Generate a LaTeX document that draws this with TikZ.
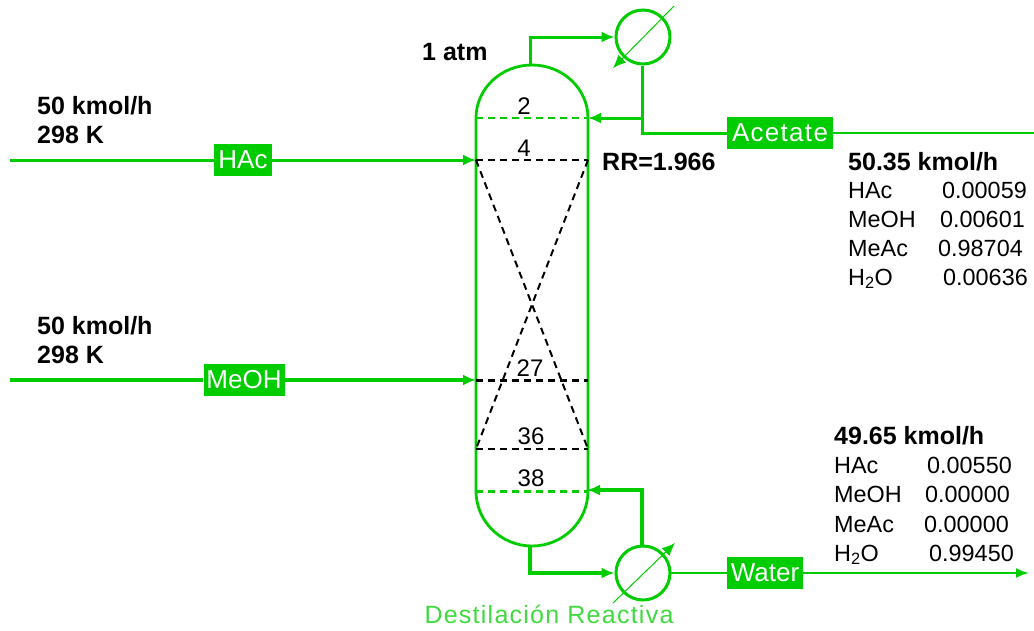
\documentclass[tikz,border=0pt]{standalone}
\usepackage{fontspec}
\setmainfont{Liberation Sans}
\usetikzlibrary{arrows.meta}
\definecolor{pfd}{RGB}{0,204,0}
\tikzset{
    stream/.style={draw=pfd, line width=3pt},
    feed/.style={stream, -{Latex[length=13pt,width=11pt]}},
    tag/.style={fill=pfd, text=white, inner sep=0pt, minimum height=32pt, font=\fontsize{26}{26}\selectfont},
    hx/.style={circle, draw=pfd, line width=3pt, minimum size=54pt, inner sep=0pt},
    tray/.style={dashed, dash pattern=on 7pt off 5pt},
    note/.style={anchor=west, inner sep=0pt, yshift=-2pt, text height=16pt, text depth=4pt, font=\fontsize{23.4}{24}\selectfont},
    bnote/.style={note, font=\fontsize{25}{25}\selectfont\bfseries},
    stage/.style={inner sep=0pt, font=\fontsize{24}{24}\selectfont}
}
\begin{document}
\begin{tikzpicture}[x=1pt,y=-1pt]
        \useasboundingbox (0,0) rectangle (1034,630);

        \coordinate (lt) at (476,118);
        \coordinate (rt) at (588,118);
        \coordinate (lb) at (476,491);
        \coordinate (rb) at (588,491);
        \coordinate (l4) at (476,160);
        \coordinate (r4) at (588,160);
        \coordinate (l27) at (476,380);
        \coordinate (r27) at (588,380);
        \coordinate (l36) at (476,449);
        \coordinate (r36) at (588,449);

        % column
        \draw[pfd, line width=2.8pt] (lt) arc[start angle=180, end angle=0, x radius=56, y radius=-53]
            -- (rb) arc[start angle=0, end angle=-180, x radius=56, y radius=-55] -- cycle;

        % trays
        \draw[tray, pfd, line width=1.5pt] (lt) -- (rt);
        \draw[tray, pfd, line width=3pt] (lb) -- (rb);
        \draw[tray, line width=2.6pt] (l4) -- (r4);
        \draw[tray, line width=3pt] (l27) -- (r27);
        \draw[tray, line width=1.6pt] (l36) -- (r36);
        \draw[tray, line width=2pt] (l4) -- (r36);
        \draw[tray, line width=2pt] (r4) -- (l36);

        \node[stage] (n2) at (524,106) {2};
        \node[stage] (n4) at (524,148) {4};
        \node[stage] (n27) at (530,368) {27};
        \node[stage] (n36) at (531,436) {36};
        \node[stage] (n38) at (531,478) {38};

        % exchangers
        \node[hx] (cond) at (643,37) {};
        \node[hx] (reb) at (643,573) {};
        \coordinate (cda) at (613,68);
        \coordinate (cdb) at (674,6);
        \coordinate (rba) at (613,603);
        \coordinate (rbb) at (675,543);
        \draw[pfd, line width=1pt, -{Latex[length=13pt,width=11pt]}] (rba) -- (rbb);
        \draw[pfd, line width=1pt, -{Latex[length=13pt,width=11pt]}] (cdb) -- (cda);

        % streams
        \coordinate (hin) at (10,160);
        \coordinate (min) at (10,380);
        \node[tag, minimum width=58pt] (hac) at (243,160) {HAc};
        \node[tag, minimum width=81pt] (meoh) at (244,380) {MeOH};
        \node[tag, minimum width=106pt, font=\fontsize{26}{26}\selectfont\addfontfeature{LetterSpace=5}] (acetate) at (780,133) {Acetate};
        \node[tag, minimum width=76pt] (water) at (765,573) {Water};

        \draw[stream] (hin) -- (hac);
        \draw[feed] (hac) -- (l4);
        \draw[stream, line width=3.4pt] (min) -- (meoh);
        \draw[feed, line width=3.4pt] (meoh) -- (l27);

        \coordinate (split) at (642,118);
        \coordinate (elbow) at (642,133);
        \coordinate (acout) at (1034,133);
        \coordinate (waout) at (1029,573);
        \coordinate (rbtop) at (642,490);
        \coordinate (rbin) at (587,490);
        \coordinate (ctop) at (530,65);
        \coordinate (ckink) at (530,37);
        \coordinate (cbot) at (530,546);
        \coordinate (bkink) at (530,573);
        \coordinate (rbout) at (670,573);

        \draw[feed] (ctop) -- (ckink) -- (cond.west);
        \draw[stream] (cond.south -| split) -- (elbow) -- (acetate);
        \draw[stream, line width=2.4pt] (acetate) -- (acout);
        \draw[feed] (split) -- (rt);
        \draw[feed, line width=3.4pt] (cbot) -- (bkink) -- (reb.west);
        \draw[feed, line width=3.4pt] (reb.north -| rbtop) -- (rbtop) -- (rbin);
        \draw[stream, line width=2.4pt] (rbout) -- (water);
        \draw[stream, line width=2.4pt, -{Latex[length=13pt,width=10pt]}] (water) -- (waout);

        % labels
        \node[bnote] (atm) at (422,52) {1 atm};
        \node[bnote] (rr) at (602,162) {RR=1.966};
        \node[bnote] (f1) at (37,106) {50 kmol/h};
        \node[bnote] (t1) at (37,135) {298 K};
        \node[bnote] (f2) at (37,326) {50 kmol/h};
        \node[bnote] (t2) at (37,355) {298 K};

        \node[bnote] (ftop) at (848,162) {50.35 kmol/h};
        \node[note] (a1) at (848,190) {HAc};
        \node[note] (a2) at (848,219) {MeOH};
        \node[note] (a3) at (848,248) {MeAc};
        \node[note] (a4) at (848,277) {H\textsubscript{2}O};
        \node[note] (x1) at (942,190) {0.00059};
        \node[note] (x2) at (940,219) {0.00601};
        \node[note] (x3) at (938,248) {0.98704};
        \node[note] (x4) at (943,277) {0.00636};

        \node[bnote] (fbot) at (834,436) {49.65 kmol/h};
        \node[note] (b1) at (834,465) {HAc};
        \node[note] (b2) at (834,494) {MeOH};
        \node[note] (b3) at (834,524) {MeAc};
        \node[note] (b4) at (834,553) {H\textsubscript{2}O};
        \node[note] (y1) at (927,465) {0.00550};
        \node[note] (y2) at (925,494) {0.00000};
        \node[note] (y3) at (924,524) {0.00000};
        \node[note] (y4) at (929,553) {0.99450};

        \node[inner sep=0pt, text=pfd!75!white, font=\fontsize{25}{25}\selectfont\addfontfeature{LetterSpace=5}] (title) at (549,614) {Destilación Reactiva};
    \end{tikzpicture}
\end{document}
